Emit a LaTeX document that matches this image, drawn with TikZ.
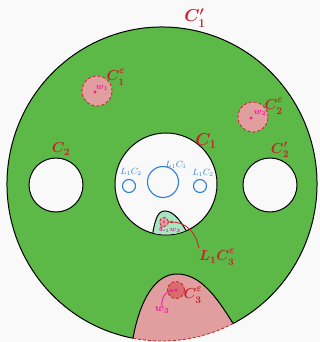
\documentclass[tikz,border=0pt]{standalone}
\usepackage{tikz}
\usepackage{xcolor}
\usetikzlibrary{positioning,arrows.meta,calc}
\definecolor{bgcolor}{HTML}{F9F9F9}
\definecolor{annuluscolor}{HTML}{5CB947}
\definecolor{epscolor}{HTML}{E09E9E}
\definecolor{deepepscolor}{HTML}{D86B6B}
\definecolor{mintcolor}{HTML}{A9E5C0}
\definecolor{labcolor}{HTML}{C8202A}
\definecolor{wcolor}{HTML}{EE1E9C}
\definecolor{liftcolor}{HTML}{2F7FDB}
\newcommand{\epsup}{\raisebox{2.5pt}{$\scriptstyle\varepsilon$}}

\begin{document}
\begin{tikzpicture}[
  x=1pt, y=-1pt,
  hole/.style={circle, draw=black, fill=bgcolor, line width=1pt, inner sep=0pt, outer sep=0pt},
  lift/.style={circle, draw=liftcolor, line width=1.1pt, inner sep=0pt},
  epsdisc/.style={circle, fill=epscolor, draw=labcolor, densely dashed, line width=0.8pt, inner sep=0pt},
  wdot/.style={circle, fill=wcolor, inner sep=1.1pt},
  curvelabel/.style={text=labcolor, font=\fontsize{14}{16}\selectfont\boldmath, inner sep=0pt},
  wlabel/.style={text=wcolor, font=\fontsize{9}{10}\selectfont\boldmath, inner sep=0pt},
  liftlabel/.style={text=liftcolor, font=\fontsize{9}{10}\selectfont, inner sep=0pt},
]
\useasboundingbox[fill=bgcolor] (0,0) rectangle (320,342);

% Outer disc, its bottom cut by the pink bump
\coordinate (o) at (162,184);
\coordinate (bl) at ($(o)+(100.8:155 and 157)$);
\coordinate (br) at ($(o)+(62.7:155 and 157)$);
\fill[annuluscolor] (o) ellipse[x radius=155, y radius=157];
\fill[epscolor] (bl) .. controls (140,300) and (155,274) .. (177,274)
  .. controls (200,274) and (216,296) .. (br)
  arc[start angle=62.7, end angle=100.8, x radius=155, y radius=157];
\draw[line width=1pt] (bl) .. controls (140,300) and (155,274) .. (177,274)
  .. controls (200,274) and (216,296) .. (br);
\draw[labcolor, densely dashed, line width=0.8pt] (br)
  arc[start angle=62.7, end angle=100.8, x radius=155, y radius=157];
\draw[line width=1pt] (bl)
  arc[start angle=100.8, end angle=422.7, x radius=155, y radius=157];

% Holes
\node[hole, minimum size=54] (c2) at (56,185) {};
\node[hole, minimum size=54] (c2p) at (270,185) {};
\node[hole, minimum size=102] (c1) at (166,184) {};

% Lifted bump inside C1
\begin{scope}
  \clip (c1.center) circle[radius=50.5];
  \fill[mintcolor] (152,238) .. controls (155,218) and (158,211) .. (165,211)
    .. controls (174,211) and (182,222) .. (190,238) -- cycle;
  \draw[line width=1pt] (152,238) .. controls (155,218) and (158,211) .. (165,211)
    .. controls (174,211) and (182,222) .. (190,238);
\end{scope}

% Lifts of the curves
\node[lift, minimum size=31] (lc1) at (163,182) {};
\node[lift, minimum size=13] (lc2) at (129,186) {};
\node[lift, minimum size=13] (lc2p) at (200,186) {};
\node[liftlabel] (lc1lab) at (176,165) {$L_1C_1$};
\node[liftlabel] (lc2lab) at (131,172) {$L_1C_2$};
\node[liftlabel] (lc2plab) at (203,173) {$L_1C_2$};

% Epsilon discs and their centres
\node[epsdisc, minimum size=30] (e1) at (97,91) {};
\node[epsdisc, minimum size=30] (e2) at (253,117) {};
\node[epsdisc, fill=deepepscolor, minimum size=17] (e3) at (176,290) {};
\node[epsdisc, minimum size=9] (le3) at (164,222) {};
\node[wdot] (d1) at (95,92) {};
\node[wdot] (d2) at (251,118) {};
\node[wdot] (d3) at (176,290) {};
\node[wdot, inner sep=0.8pt] (ld3) at (164,222) {};

% Curve labels
\node[curvelabel, font=\fontsize{17}{19}\selectfont\boldmath] (c1plab) at (195,18) {$C_1'$};
\node[curvelabel, font=\fontsize{17}{19}\selectfont\boldmath] (c1lab) at (206,141) {$C_1$};
\node[curvelabel] (c2lab) at (61,149) {$C_2$};
\node[curvelabel] (c2plab) at (280,150) {$C_2'$};
\node[curvelabel] (e1lab) at (116,77) {$C_1^{\epsup}$};
\node[curvelabel] (e2lab) at (274,106) {$C_2^{\epsup}$};
\node[curvelabel] (e3lab) at (193,295) {$C_3^{\epsup}$};
\node[curvelabel] (le3lab) at (217,257) {$L_1C_3^{\epsup}$};

% Point labels
\node[wlabel] (w1) at (102,88) {$w_1$};
\node[wlabel] (w2) at (260,113) {$w_2$};
\node[wlabel, font=\fontsize{11}{12}\selectfont\boldmath] (w3) at (162,310) {$w_3$};
\node[wlabel, font=\fontsize{7}{8}\selectfont\boldmath] (lw3) at (170,230) {$L_1w_3$};

% Arrows
\draw[wcolor, line width=0.9pt, -{Stealth[length=4pt]}] (w3.north)
  .. controls (161,297) and (166,291) .. (d3);
\draw[wcolor, line width=0.6pt, -{Stealth[length=2.5pt]}] (lw3.west) -- (le3);
\draw[labcolor, line width=0.8pt, -{Stealth[length=4pt]}] (le3lab.north west)
  .. controls (196,232) and (186,222) .. (le3);

\end{tikzpicture}
\end{document}
